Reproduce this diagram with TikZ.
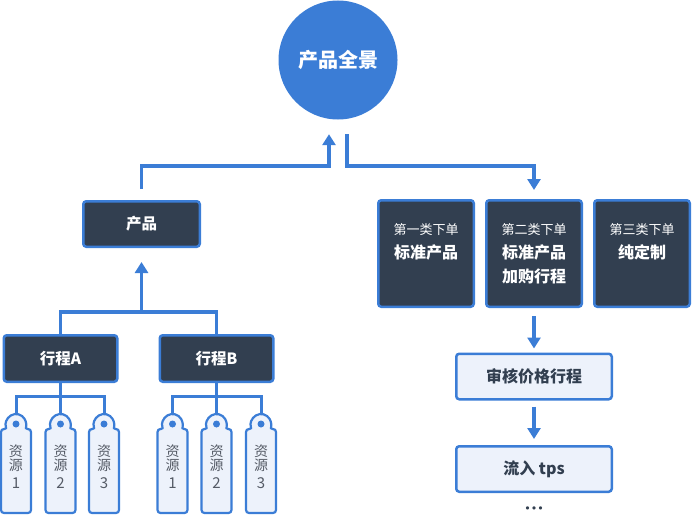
\documentclass[tikz,border=0pt]{standalone}
\usepackage{fontspec}
\setmainfont{Noto Sans CJK SC}
\newfontfamily\dotfont{DejaVu Sans}
\usetikzlibrary{arrows.meta, positioning, calc}
\definecolor{linkblue}{HTML}{3B7DD6}
\definecolor{boxdark}{HTML}{323F50}
\definecolor{boxlight}{HTML}{EDF2FB}
\definecolor{taggray}{HTML}{555B66}
\tikzset{
node distance=44.5pt,
>={Triangle[width=13pt,length=11pt]},
link/.style={draw=linkblue, line width=3.5pt},
twig/.style={link, line width=3pt},
hub/.style={circle, fill=linkblue, minimum size=119pt, inner sep=0pt, text=white,
    font=\fontsize{20}{24}\selectfont\bfseries},
darkbox/.style={%
    rectangle,
    rounded corners=3pt,
    draw=linkblue, line width=2.5pt,
    fill=boxdark, text=white,
    inner sep=0pt,
    % Font
    font=\fontsize{15.5}{18}\selectfont\bfseries
},
orderbox/.style={%
    darkbox, align=center,
    minimum width=95.5pt, minimum height=106.5pt,
    font=\fontsize{16}{24}\selectfont\bfseries
},
lightbox/.style={%
    darkbox, fill=boxlight, text=boxdark,
    minimum width=155.5pt, minimum height=45.5pt,
    font=\fontsize{16}{19}\selectfont\bfseries
},
tagshape/.style={draw=linkblue, line width=2.2pt, fill=boxlight, rounded corners=3pt},
tagtext/.style={text=taggray, align=center, inner sep=0pt, font=\fontsize{14}{14}\selectfont},
}
\newcommand{\ordertype}[1]{{\mdseries\fontsize{13}{24}\selectfont #1}}

\begin{document}
\begin{tikzpicture}[x=1pt,y=1pt]
	\useasboundingbox (0,0) rectangle (692,-516);

	\node[hub] (pano) at (338,-60) {产品全景};
	\node[darkbox, minimum width=116.5pt, minimum height=45.5pt] (prod) at (141.5,-224) {产品};
	\node[darkbox, minimum width=113.5pt, minimum height=46.5pt] (tripA) at (60.5,-358.5) {行程A};
	\node[darkbox, minimum width=113.5pt, minimum height=46.5pt, right=40pt of tripA] (tripB) {行程B};

	\node[orderbox] (order1) at (426,-253.5) {\ordertype{第一类下单}\\标准产品\\\phantom{加购行程}};
	\node[orderbox, right=10pt of order1] (order2) {\ordertype{第二类下单}\\标准产品\\加购行程};
	\node[orderbox, right=10pt of order2] (order3) {\ordertype{第三类下单}\\纯定制\\\phantom{加购行程}};
	\node[lightbox, below=of order2] (audit) {审核价格行程};
	\node[lightbox, below=of audit] (flow) {流入 tps};
	\node[text=boxdark, inner sep=0pt, anchor=base, font=\dotfont\fontsize{11}{12}\selectfont] (more) at (534,-512) {•••};

	% tags
	\foreach \x [count=\i] in {16,60.5,104,172.5,216.5,261} {
		\coordinate (tagtop\i) at (\x,-414);
	}
	\draw[twig] (tripA.south) -- ++(0,-13) coordinate (forkA);
	\draw[twig] (tagtop1) |- (forkA) -| (tagtop3);
	\draw[twig] (forkA) -- (tagtop2);
	\draw[twig] (tripB.south) -- ++(0,-13) coordinate (forkB);
	\draw[twig] (tagtop4) |- (forkB) -| (tagtop6);
	\draw[twig] (forkB) -- (tagtop5);
	\foreach \x/\n [count=\i] in {16/1,60.5/2,104/3,172.5/1,216.5/2,261/3} {
		\draw[tagshape] (\x-15,-513) -- (\x-15,-429) -- (\x-8.66,-429)
			arc[start angle=210, end angle=-30, radius=10pt] -- (\x+15,-429) -- (\x+15,-513) -- cycle;
		\fill[linkblue] (\x,-424) circle[radius=3.5pt];
		\node[tagtext] (res\i) at (\x,-467) {资\\源\\[4pt]{\fontsize{15}{15}\selectfont\n}};
	}

	% links
	\coordinate (upL) at ([xshift=-9pt]pano.south);
	\coordinate (upR) at ([xshift=9pt]pano.south);
	\coordinate (bar) at (0,-166);
	\draw[link,->,shorten <=11pt,shorten >=14.5pt] (prod.north) |- (upL |- bar) -- (upL);
	\draw[link,->,shorten <=14.5pt,shorten >=9pt] (upR) -- (upR |- bar) -| (order2.north);
	\draw[link] (tripA.north) -- ++(0,22) coordinate (join) -| (tripB.north);
	\draw[link,->,shorten >=14pt] (join -| prod.south) -- (prod.south);
	\draw[link,->,shorten <=8pt,shorten >=4pt] (order2) -- (audit);
	\draw[link,->,shorten <=6pt,shorten >=6pt] (audit) -- (flow);
\end{tikzpicture}
\end{document}
